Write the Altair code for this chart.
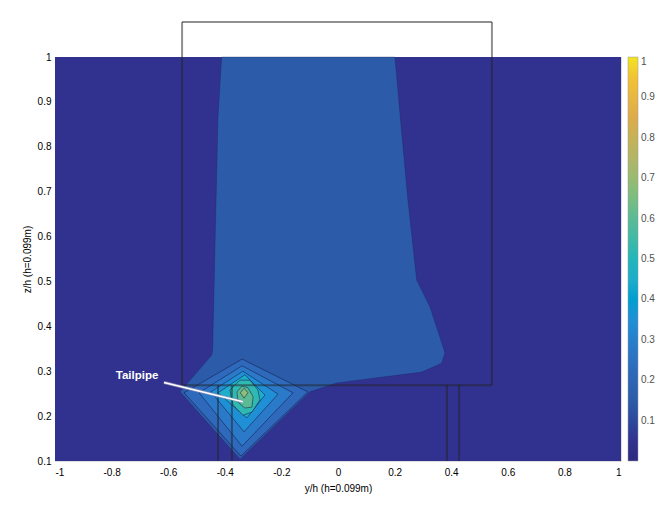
import altair as alt
import pandas as pd

# ---- axis ticks -------------------------------------------------------
x_ticks = [-1, -0.8, -0.6, -0.4, -0.2, 0, 0.2, 0.4, 0.6, 0.8, 1]
y_ticks = [0.1, 0.2, 0.3, 0.4, 0.5, 0.6, 0.7, 0.8, 0.9, 1]
cbar_ticks = [0.1, 0.2, 0.3, 0.4, 0.5, 0.6, 0.7, 0.8, 0.9, 1]

# ---- colour map --------------------------------------------------------
cmap_stops = [0, 0.05, 0.15, 0.22, 0.28, 0.35, 0.45, 0.52, 0.6, 0.68, 0.75, 0.85, 0.95, 1.0]
cmap_colors = ["#2d2a80", "#31328f", "#2c5ca9", "#2e69bb", "#2b79c9", "#1f90d6",
               "#1eadcb", "#30b9b2", "#5abb95", "#8dbd77", "#b3b566", "#ddac4b",
               "#f2c335", "#f2e420"]

# ---- filled contour bands (y/h, z/h vertices) ---------------------------
band_names = ["base", "plume", "ring1", "ring2", "ring3", "ring4", "ring5", "ring6", "peak"]
band_levels = [0.05, 0.15, 0.22, 0.28, 0.35, 0.45, 0.52, 0.60, 0.68]
band_y = [
    [-1, 1, 1, -1],
    [-0.411, 0.201, 0.225, 0.247, 0.278, 0.325, 0.378, 0.366, 0.296, -0.005,
     -0.099, -0.346, -0.558, -0.446, -0.443, -0.435, -0.424],
    [-0.544, -0.339, -0.106, -0.343],
    [-0.491, -0.339, -0.159, -0.339],
    [-0.449, -0.336, -0.212, -0.332],
    [-0.424, -0.329, -0.258, -0.322],
    [-0.382, -0.346, -0.311, -0.283, -0.276, -0.304, -0.336, -0.371],
    [-0.357, -0.339, -0.318, -0.300, -0.304, -0.329, -0.353],
    [-0.345, -0.332, -0.318, -0.332],
]
band_z = [
    [0.1, 0.1, 1, 1],
    [1.0, 1.0, 0.831, 0.681, 0.503, 0.443, 0.341, 0.318, 0.298, 0.274,
     0.254, 0.104, 0.254, 0.336, 0.347, 0.570, 0.866],
    [0.252, 0.327, 0.254, 0.111],
    [0.252, 0.312, 0.252, 0.133],
    [0.254, 0.300, 0.249, 0.165],
    [0.252, 0.292, 0.247, 0.196],
    [0.258, 0.280, 0.280, 0.258, 0.236, 0.209, 0.202, 0.225],
    [0.254, 0.267, 0.263, 0.243, 0.220, 0.218, 0.231],
    [0.252, 0.262, 0.252, 0.240],
]

# ---- car outline (box + wheels) -----------------------------------------
car_y1 = [-0.551, -0.551, 0.544, -0.551, -0.424, -0.375, 0.385, 0.428]
car_z1 = [1.078, 1.078, 1.078, 0.269, 0.269, 0.269, 0.269, 0.269]
car_y2 = [0.544, -0.551, 0.544, 0.544, -0.424, -0.375, 0.385, 0.428]
car_z2 = [1.078, 0.269, 0.269, 0.269, 0.1, 0.1, 0.1, 0.1]

# ---- annotation --------------------------------------------------------
label_text = ["Tailpipe"]
label_y = [-0.71]
label_z = [0.289]
arrow_y1, arrow_z1 = [-0.615], [0.275]
arrow_y2, arrow_z2 = [-0.336], [0.232]

FONT = "Liberation Sans"
W, H = 566, 404

xscale = alt.Scale(domain=[-1, 1], nice=False, zero=False)
yscale = alt.Scale(domain=[0.1, 1], nice=False, zero=False)
fscale = alt.Scale(domain=cmap_stops, range=cmap_colors, nice=False, zero=False)

xaxis = alt.Axis(values=x_ticks, title="y/h (h=0.099m)", grid=False, domain=False,
                 ticks=False, labelPadding=6, titlePadding=6,
                 titleFontWeight="normal", titleFont=FONT, titleFontSize=10,
                 labelExpr="replace(format(datum.value, '.1~f'), '\u2212', '-')")
yaxis = alt.Axis(values=y_ticks, title="z/h (h=0.099m)", grid=False, domain=False,
                 ticks=False, labelPadding=4, titleX=-23, titleY=H / 2,
                 titleFontWeight="normal", titleFont=FONT, titleFontSize=10,
                 labelExpr="replace(format(datum.value, '.1~f'), '\u2212', '-')")
legend = alt.Legend(title=None, values=cbar_ticks, direction="vertical",
                    gradientLength=H, gradientThickness=10, offset=7, padding=0,
                    labelOverlap=False, labelFontSize=10, labelColor="#505050",
                    labelFont=FONT, format=".1~f", labelOffset=3,
                    gradientStrokeColor="#999999", gradientStrokeWidth=0.5)

layers = []
for k, name in enumerate(band_names):
    ys, zs = band_y[k], band_z[k]
    df = pd.DataFrame({
        "y": ys + [ys[0]],
        "z": zs + [zs[0]],
        "i": list(range(len(ys) + 1)),
        "level": [band_levels[k]] * (len(ys) + 1),
        "poly": [name] * (len(ys) + 1),
    })
    if name == "base":
        mk = alt.Chart(df).mark_line(strokeWidth=0, strokeOpacity=0)
    elif name == "plume":
        mk = alt.Chart(df).mark_line(stroke="#1c1d55", strokeWidth=0.6, strokeOpacity=0.5)
    else:
        mk = alt.Chart(df).mark_line(stroke="#15163f", strokeWidth=0.7, strokeOpacity=0.75)
    layers.append(mk.encode(
        x=alt.X("y:Q", scale=xscale, axis=xaxis),
        y=alt.Y("z:Q", scale=yscale, axis=yaxis),
        order=alt.Order("i:Q"),
        detail="poly:N",
        fill=alt.Fill("level:Q", scale=fscale, legend=legend),
    ))

car_df = pd.DataFrame({"y1": car_y1, "z1": car_z1, "y2": car_y2, "z2": car_z2})
car = alt.Chart(car_df).mark_rule(color="#222222", opacity=0.5, strokeWidth=2).encode(
    x="y1:Q", y="z1:Q", x2="y2:Q", y2="z2:Q")

arrow_df = pd.DataFrame({"y1": arrow_y1, "z1": arrow_z1, "y2": arrow_y2, "z2": arrow_z2})
arrow_shadow = alt.Chart(arrow_df).mark_rule(color="#8f90b8", strokeWidth=3.2, opacity=0.8).encode(
    x="y1:Q", y="z1:Q", x2="y2:Q", y2="z2:Q")
arrow = alt.Chart(arrow_df).mark_rule(color="white", strokeWidth=1.6).encode(
    x="y1:Q", y="z1:Q", x2="y2:Q", y2="z2:Q")

lab_df = pd.DataFrame({"t": label_text, "y": label_y, "z": label_z})
label = alt.Chart(lab_df).mark_text(color="white", font=FONT, fontWeight="bold",
                                    fontSize=11.5, baseline="middle", align="center").encode(
    x="y:Q", y="z:Q", text="t:N")

chart = alt.layer(*layers, car, arrow_shadow, arrow, label).properties(
    width=W, height=H,
    autosize=alt.AutoSizeParams(type="none"),
    padding={"left": 47, "top": 49, "right": 41, "bottom": 41},
).configure_axis(
    labelFont=FONT, labelFontSize=10, labelColor="#505050",
    titleColor="#404040",
).configure_view(stroke=None).configure(background="white")

chart.save("out.html", embed_options={"renderer": "svg", "actions": False})
